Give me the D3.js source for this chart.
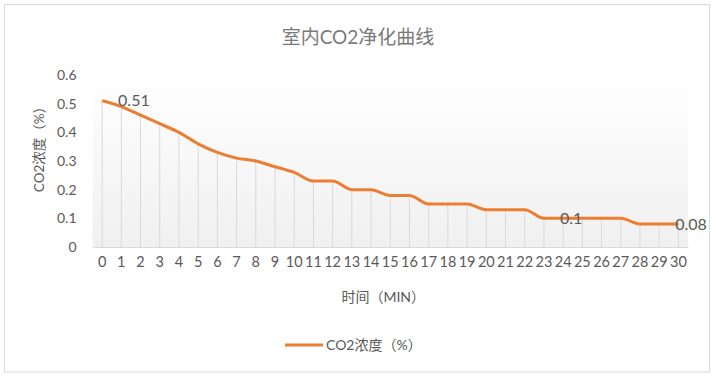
<!DOCTYPE html>
<html>
<head>
<meta charset="utf-8">
<script src="https://cdn.jsdelivr.net/npm/d3@7"></script>
<style>
  body { margin: 0; background: #fff; overflow: hidden; }
  svg { display: block; }
  svg text { font-family: Lato, "Noto Sans CJK SC", sans-serif; fill: #595959; }
</style>
</head>
<body>
<svg width="716" height="377"></svg>
<script>
const titleText = '室内CO2净化曲线';
const xAxisLabelText = '时间（MIN）';
const yAxisLabelText = 'CO2浓度（%）';
const seriesName = 'CO2浓度（%）';

const minutes = d3.range(0, 31);
const co2 = [0.51, 0.49, 0.46, 0.43, 0.40, 0.36, 0.33, 0.31, 0.30, 0.28, 0.26,
             0.23, 0.23, 0.20, 0.20, 0.18, 0.18, 0.15, 0.15, 0.15, 0.13, 0.13,
             0.13, 0.10, 0.10, 0.10, 0.10, 0.10, 0.08, 0.08, 0.08];
const yTicks = [0, 0.1, 0.2, 0.3, 0.4, 0.5, 0.6];
const labelled = [0, 23, 29];

const data = minutes.map((m, i) => ({ minute: m, value: co2[i] }));

const svg = d3.select('svg');
const width = +svg.attr('width');
const height = +svg.attr('height');

// chart border
svg.append('rect')
    .attr('x', 4.5).attr('y', 4.5)
    .attr('width', 705).attr('height', 367.5)
    .attr('fill', '#fff')
    .attr('stroke', '#d9d9d9');

const margin = { top: 75, right: 28, bottom: 130, left: 92.5 };
const innerWidth = width - margin.left - margin.right;
const innerHeight = height - margin.top - margin.bottom;

const xScale = d3.scaleBand()
    .domain(minutes)
    .range([0, innerWidth]);

const yScale = d3.scaleLinear()
    .domain([0, 0.6])
    .range([innerHeight, 0]);

const xValue = d => d.minute;
const yValue = d => d.value;
const cx = d => xScale(xValue(d)) + xScale.bandwidth() / 2;

const defs = svg.append('defs');
const grad = defs.append('linearGradient')
    .attr('id', 'plotBg')
    .attr('x1', 0).attr('y1', 0).attr('x2', 0).attr('y2', 1);
grad.append('stop').attr('offset', '0%').attr('stop-color', '#ffffff');
grad.append('stop').attr('offset', '100%').attr('stop-color', '#f0f0f0');

const g = svg.append('g')
    .attr('transform', `translate(${margin.left},${margin.top})`);

g.append('rect')
    .attr('width', innerWidth)
    .attr('height', innerHeight)
    .attr('fill', 'url(#plotBg)');

// drop lines
g.selectAll('.drop')
    .data(data)
    .enter()
    .append('line')
    .attr('class', 'drop')
    .attr('x1', cx).attr('x2', cx)
    .attr('y1', d => yScale(yValue(d)))
    .attr('y2', innerHeight)
    .attr('stroke', '#d9d9d9')
    .attr('stroke-width', 1);

// y axis
const yAxisG = g.append('g')
    .call(d3.axisLeft(yScale).tickValues(yTicks).tickFormat(d => d === 0 ? '0' : d3.format('.1f')(d)).tickSize(0).tickPadding(16))
    .attr('font-size', null)
    .attr('font-family', null);
yAxisG.select('.domain').remove();
yAxisG.selectAll('text')
    .style('font-size', '14px');

// x axis
const xAxisG = g.append('g')
    .attr('transform', `translate(0,${innerHeight})`)
    .call(d3.axisBottom(xScale).tickSize(0).tickPadding(10))
    .attr('font-size', null)
    .attr('font-family', null);
xAxisG.select('.domain').attr('stroke', '#d9d9d9');
xAxisG.selectAll('text')
    .style('font-size', '14.5px');

// line
const line = d3.line()
    .x(cx)
    .y(d => yScale(yValue(d)))
    .curve(d3.curveMonotoneX);

g.append('path')
    .datum(data)
    .attr('fill', 'none')
    .attr('stroke', '#ed7d31')
    .attr('stroke-width', 3)
    .attr('stroke-linejoin', 'round')
    .attr('d', line);

// data labels
g.selectAll('.data-label')
    .data(data.filter(d => labelled.includes(d.minute)))
    .enter()
    .append('text')
    .attr('class', 'data-label')
    .attr('x', d => cx(d) + 16)
    .attr('y', d => yScale(yValue(d)))
    .attr('dy', '0.35em')
    .style('font-size', '16px')
    .text(d => d.value);

// axis titles
g.append('text')
    .attr('x', -innerHeight / 2 + 15)
    .attr('y', -49)
    .attr('transform', 'rotate(-90)')
    .style('text-anchor', 'middle')
    .style('font-size', '13.5px')
    .text(yAxisLabelText);

g.append('text')
    .attr('x', innerWidth / 2 - 7)
    .attr('y', innerHeight + 55)
    .style('text-anchor', 'middle')
    .style('font-size', '14px')
    .text(xAxisLabelText);

// title
svg.append('text')
    .attr('x', 358)
    .attr('y', 44)
    .style('text-anchor', 'middle')
    .style('font-size', '19px')
    .style('fill', '#7a7a7a')
    .text(titleText);

// legend
const legend = svg.append('g').attr('transform', 'translate(285,345)');
legend.append('line')
    .attr('x1', 0).attr('x2', 38)
    .attr('stroke', '#ed7d31')
    .attr('stroke-width', 3);
legend.append('text')
    .attr('x', 41)
    .attr('dy', '0.35em')
    .style('font-size', '14px')
    .text(seriesName);
</script>
</body>
</html>
